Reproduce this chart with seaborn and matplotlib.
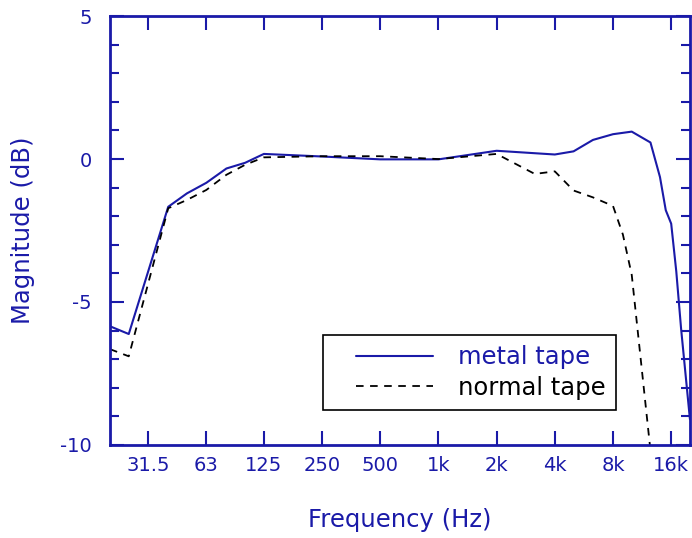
import numpy as np
import pandas as pd
import matplotlib
matplotlib.use("Agg")
import matplotlib.pyplot as plt
from matplotlib.ticker import FixedLocator, NullLocator, MultipleLocator
from matplotlib.lines import Line2D
from matplotlib.legend_handler import HandlerLine2D
import seaborn as sns

# frequency response (Hz, dB)
metal_freq = [20, 25, 40, 50, 63, 80, 100, 125, 250, 500, 1000, 2000, 4000, 5000,
              6300, 8000, 10000, 12500, 14000, 15000, 16000, 17000, 18000, 20000]
metal_db = [-5.85, -6.12, -1.67, -1.2, -0.83, -0.33, -0.13, 0.18, 0.09, -0.01, -0.01, 0.29, 0.16, 0.27,
            0.67, 0.87, 0.96, 0.58, -0.63, -1.79, -2.26, -3.93, -5.93, -9.1]

normal_freq = [20, 25, 40, 50, 63, 80, 100, 125, 250, 500, 1000, 2000, 3150, 4000,
               5000, 6300, 8000, 9000, 10000, 12500]
normal_db = [-6.65, -6.9, -1.72, -1.43, -1.08, -0.55, -0.2, 0.06, 0.1, 0.1, 0.0, 0.18, -0.52, -0.43,
             -1.1, -1.34, -1.64, -2.64, -4.05, -10.2]

tick_freqs = [31.5, 63, 125, 250, 500, 1000, 2000, 4000, 8000, 16000]
tick_labels = ["31.5", "63", "125", "250", "500", "1k", "2k", "4k", "8k", "16k"]

blue = "#1a1aa8"

sns.set_style("white")
plt.rcParams['font.family'] = ['DejaVu Sans']
plt.rcParams['axes.unicode_minus'] = False

metal = pd.DataFrame({"freq": metal_freq, "db": metal_db})
normal = pd.DataFrame({"freq": normal_freq, "db": normal_db})

fig, ax = plt.subplots(figsize=(6.92, 5.38), dpi=100)
fig.subplots_adjust(left=0.159, right=0.997, bottom=0.173, top=0.970)

sns.lineplot(data=metal, x="freq", y="db", ax=ax, color=blue, lw=1.5,
             label="metal tape", estimator=None, sort=False)
sns.lineplot(data=normal, x="freq", y="db", ax=ax, color="black", lw=1.3,
             linestyle=(0, (4.2, 3.6)), label="normal tape", estimator=None, sort=False)

ax.set_xscale("log")
ax.set_xlim(20, 20000)
ax.set_ylim(-10, 5)
ax.xaxis.set_major_locator(FixedLocator(tick_freqs))
ax.xaxis.set_minor_locator(NullLocator())
ax.set_xticklabels(tick_labels)
ax.yaxis.set_major_locator(FixedLocator([-10, -5, 0, 5]))
ax.yaxis.set_minor_locator(MultipleLocator(1))

for s in ax.spines.values():
    s.set_color(blue)
    s.set_linewidth(2)

ax.tick_params(which="both", direction="in", top=True, right=True, left=True, bottom=True, colors=blue)
ax.tick_params(which="major", length=10, width=1.5, labelsize=14)
ax.tick_params(which="minor", length=6.5, width=1.5)
ax.tick_params(axis="x", which="major", pad=8)
ax.tick_params(axis="y", which="major", pad=13)

ax.set_xlabel("Frequency (Hz)", fontsize=17.5, color=blue, labelpad=24)
ax.set_ylabel("Magnitude (dB)", fontsize=17.5, color=blue, labelpad=18)

leg = ax.legend(loc="lower left", bbox_to_anchor=(0.367, 0.082), borderaxespad=0,
                fontsize=17.5, frameon=True, fancybox=False, handlelength=4.12,
                handletextpad=1.03, borderpad=0.42, labelspacing=0.25, labelcolor="linecolor",
                handler_map={Line2D: HandlerLine2D(xpad=0.95)})
leg.get_frame().set_edgecolor("black")
leg.get_frame().set_linewidth(1.2)
leg.get_frame().set_alpha(1)

plt.savefig("out.png", dpi=100)
